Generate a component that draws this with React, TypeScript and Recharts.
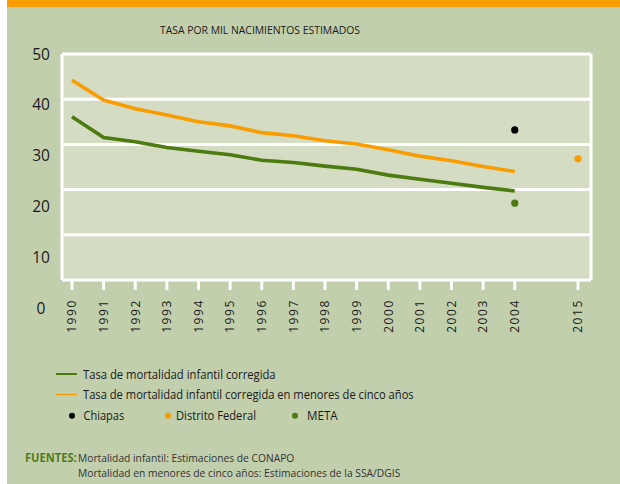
import React from 'react';
import { LineChart, Line, XAxis, YAxis, CartesianGrid } from 'recharts';

const years = ['1990', '1991', '1992', '1993', '1994', '1995', '1996', '1997', '1998', '1999', '2000', '2001', '2002', '2003', '2004', '', '2015'];
const yearTicks = ['1990', '1991', '1992', '1993', '1994', '1995', '1996', '1997', '1998', '1999', '2000', '2001', '2002', '2003', '2004', '2015'];
const infantil = [36.1, 31.5, 30.6, 29.3, 28.5, 27.7, 26.5, 26.0, 25.2, 24.5, 23.2, 22.3, 21.4, 20.5, 19.7, null, null];
const menoresCinco = [44.2, 39.8, 37.9, 36.5, 35.0, 34.1, 32.6, 31.9, 30.8, 30.1, 28.8, 27.4, 26.4, 25.1, 24.0, null, null];
const chiapas = [null, null, null, null, null, null, null, null, null, null, null, null, null, null, 33.2, null, null];
const distritoFederal = [null, null, null, null, null, null, null, null, null, null, null, null, null, null, null, null, 26.8];
const meta = [null, null, null, null, null, null, null, null, null, null, null, null, null, null, 17.0, null, null];
const gridTicks = [0, 10, 20, 30, 40, 50];
const labelTicks = [0, 10, 20, 30, 40, 50];

const title = 'TASA POR MIL NACIMIENTOS ESTIMADOS';
const legendLines = ['Tasa de mortalidad infantil corregida', 'Tasa de mortalidad infantil corregida en menores de cinco años'];
const legendDots = ['Chiapas', 'Distrito Federal', 'META'];
const sourcesLabel = 'FUENTES:';
const sources = ['Mortalidad infantil: Estimaciones de CONAPO', 'Mortalidad en menores de cinco años: Estimaciones de la SSA/DGIS'];

const GREEN = '#4c7b10';
const ORANGE = '#f99c00';
const BG = '#c2cfad';
const PLOT = '#d4dcc3';
const TEXT = '#1a1a1a';
const SANS = "'Open Sans', 'Noto Sans', sans-serif";

const data = years.map((y, i) => ({
  year: y,
  infantil: infantil[i],
  menores: menoresCinco[i],
  chiapas: chiapas[i],
  df: distritoFederal[i],
  meta: meta[i],
}));

const XTick = (props: any) => {
  const { x, y, payload } = props;
  if (!payload.value) return <g />;
  return (
    <text
      x={x}
      y={y}
      transform={`rotate(-90, ${x}, ${y})`}
      textAnchor="end"
      dy="0.36em"
      fontSize={12}
      letterSpacing={1.6}
      fill={TEXT}
      fontFamily={SANS}
    >
      {payload.value}
    </text>
  );
};

const YTick = (props: any) => {
  const { x, y, payload } = props;
  return (
    <text x={x - 21} y={y} textAnchor="middle" dy="0.36em" fontSize={15.5} fill={TEXT} fontFamily={SANS}>
      {payload.value}
    </text>
  );
};

const T = (p: any) => (
  <text
    x={p.x}
    y={p.y}
    fontSize={p.size || 12.5}
    fontWeight={p.bold ? 'bold' : 'normal'}
    fill={p.fill || TEXT}
    fontFamily={SANS}
    textLength={p.len}
    lengthAdjust="spacingAndGlyphs"
  >
    {p.children}
  </text>
);

export default function App() {
  return (
    <div style={{ position: 'absolute', left: 0, top: 0, width: 620, height: 484, background: '#fff', overflow: 'hidden' }}>
      <div style={{ position: 'absolute', left: 7, top: 0, width: 613, height: 484, background: BG }} />
      <div style={{ position: 'absolute', left: 7, top: 0, width: 613, height: 7, background: ORANGE }} />
      <div style={{ position: 'absolute', left: 0, top: 0 }}>
        <LineChart width={620} height={484} data={data} margin={{ top: 54, right: 29, bottom: 144, left: 2 }}>
          <CartesianGrid
            yAxisId="data"
            fill={PLOT}
            stroke="#ffffff"
            strokeWidth={3}
            strokeDasharray=""
            horizontalValues={gridTicks}
            verticalCoordinatesGenerator={({ offset }: any) => [offset.left, offset.left + offset.width]}
          />
          <XAxis
            dataKey="year"
            ticks={yearTicks}
            interval={0}
            padding={{ left: 10, right: 13 }}
            height={60}
            tickSize={10}
            tickMargin={9}
            axisLine={false}
            tickLine={{ stroke: '#ffffff', strokeWidth: 3 }}
            tick={<XTick />}
          />
          <YAxis
            yAxisId="labels"
            type="number"
            domain={[5.5, 50]}
            ticks={labelTicks}
            interval={0}
            allowDataOverflow
            width={60}
            tickSize={0}
            tickMargin={0}
            axisLine={false}
            tickLine={false}
            tick={<YTick />}
          />
          <YAxis yAxisId="data" type="number" domain={[0, 50]} ticks={gridTicks} hide width={0} allowDataOverflow />
          <Line yAxisId="data" dataKey="menores" stroke={ORANGE} strokeWidth={3.6} dot={false} activeDot={false} isAnimationActive={false} />
          <Line yAxisId="data" dataKey="infantil" stroke={GREEN} strokeWidth={3.6} dot={false} activeDot={false} isAnimationActive={false} />
          <Line yAxisId="data" dataKey="chiapas" stroke="none" dot={{ r: 3.6, fill: '#000', stroke: 'none' }} activeDot={false} isAnimationActive={false} />
          <Line yAxisId="data" dataKey="df" stroke="none" dot={{ r: 3.6, fill: ORANGE, stroke: 'none' }} activeDot={false} isAnimationActive={false} />
          <Line yAxisId="data" dataKey="meta" stroke="none" dot={{ r: 3.6, fill: GREEN, stroke: 'none' }} activeDot={false} isAnimationActive={false} />
        </LineChart>
      </div>
      <svg width={620} height={484} style={{ position: 'absolute', left: 0, top: 0, pointerEvents: 'none' }}>
        <T x={160} y={34.3} size={10} len={200}>{title}</T>
        <line x1={56} x2={77} y1={374} y2={374} stroke={GREEN} strokeWidth={2} />
        <T x={83} y={378.5} len={192.6}>{legendLines[0]}</T>
        <line x1={56} x2={77} y1={394.5} y2={394.5} stroke={ORANGE} strokeWidth={1.5} />
        <T x={83} y={399} len={330.7}>{legendLines[1]}</T>
        <circle cx={72} cy={415.8} r={3} fill="#000" />
        <T x={83.5} y={420} len={40.7}>{legendDots[0]}</T>
        <circle cx={168} cy={415.8} r={3} fill={ORANGE} />
        <T x={176} y={420} len={80}>{legendDots[1]}</T>
        <circle cx={295} cy={415.8} r={3} fill={GREEN} />
        <T x={307} y={420} len={30.7}>{legendDots[2]}</T>
        <T x={25} y={461.5} size={11.5} bold fill="#4f7d1c" len={51.7}>{sourcesLabel}</T>
        <T x={78} y={461.5} size={11} fill="#333" len={216.3}>{sources[0]}</T>
        <T x={78} y={477} size={11} fill="#333" len={322.3}>{sources[1]}</T>
      </svg>
    </div>
  );
}
